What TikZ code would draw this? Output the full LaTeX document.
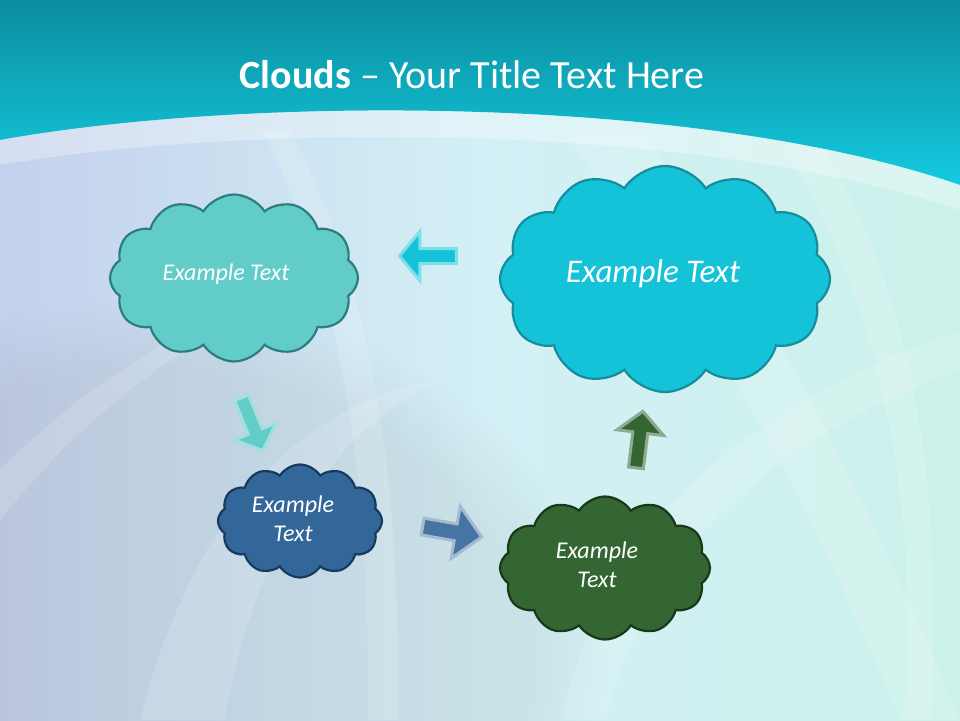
\documentclass[tikz,border=0pt]{standalone}
\usepackage{fontspec}
\setmainfont{Carlito}
\usetikzlibrary{shapes.symbols,shapes.arrows,positioning,fadings}
\definecolor{bandtop}{HTML}{0A8E9F}
\definecolor{bandlow}{HTML}{14CADF}
\definecolor{paleleft}{HTML}{C4D0EC}
\definecolor{palemid}{HTML}{D3F0F6}
\definecolor{paleright}{HTML}{CBF1EA}
\definecolor{tealfill}{HTML}{62CCC9}
\definecolor{tealline}{HTML}{2B7E7D}
\definecolor{cyanfill}{HTML}{14C3D8}
\definecolor{cyanline}{HTML}{168C9C}
\definecolor{bluefill}{HTML}{336699}
\definecolor{blueline}{HTML}{173A5E}
\definecolor{greenfill}{HTML}{336633}
\definecolor{greenline}{HTML}{183818}
\tikzset{
  cloudbox/.style={cloud, cloud puffs=12, cloud puff arc=115, draw, line width=2.2pt, inner sep=0pt},
  cloudtext/.style={text=white, align=center, font=\itshape\fontsize{24}{29}\selectfont},
  blockarrow/.style={single arrow, inner sep=0pt, line width=3pt, single arrow head indent=0pt},
  streak/.style={fill=white, fill opacity=0.15, draw=none}
}
\begin{document}
\begin{tikzpicture}[x=1pt,y=-1pt]
\useasboundingbox (0,0) rectangle (960,720);
% background
\shade[left color=paleleft, right color=paleright, middle color=palemid] (0,0) rectangle (960,720);
\fill[gray, fill opacity=0.12, path fading=circle with fuzzy edge 20 percent] (150,660) ellipse [x radius=460pt, y radius=360pt];
\fill[streak] (290,130) .. controls (380,300) and (400,500) .. (398,720) -- (368,720) .. controls (370,500) and (348,300) .. (262,130) -- cycle;
\fill[streak] (140,720) .. controls (190,520) and (300,400) .. (440,380) .. controls (330,430) and (250,560) .. (225,720) -- cycle;
\fill[streak] (0,470) .. controls (80,390) and (180,320) .. (300,290) .. controls (180,340) and (80,420) .. (0,520) -- cycle;
\fill[streak] (560,130) .. controls (700,300) and (800,480) .. (900,720) -- (960,720) .. controls (860,480) and (760,290) .. (640,130) -- cycle;
\fill[streak] (780,140) .. controls (880,300) and (920,500) .. (905,720) -- (930,720) .. controls (945,500) and (915,300) .. (825,150) -- cycle;
\fill[streak] (560,720) .. controls (600,560) and (700,420) .. (960,330) -- (960,370) .. controls (740,450) and (640,580) .. (605,720) -- cycle;
% title band
\shade[top color=bandtop, bottom color=bandlow] (0,0) -- (960,0) -- (960,185)
  .. controls (700,95) and (250,95) .. (0,140) -- cycle;
\fill[white, opacity=0.3] (0,140) .. controls (250,95) and (700,95) .. (960,185) -- (960,210)
  .. controls (700,122) and (250,122) .. (0,165) -- cycle;
\node[text=white, font=\fontsize{40}{46}\selectfont] (title) at (472,75) {\textbf{Clouds} -- Your Title Text Here};
% clouds
\node[cloudbox, fill=tealfill, draw=tealline, minimum width=248pt, minimum height=167pt] (c1) at (234,278) {};
\node[cloudbox, fill=cyanfill, draw=cyanline, minimum width=330pt, minimum height=226pt] (c2) at (665,279) {};
\node[cloudbox, fill=bluefill, draw=blueline, minimum width=164pt, minimum height=113pt] (c3) at (300,521) {};
\node[cloudbox, fill=greenfill, draw=greenline, minimum width=210pt, minimum height=143pt] (c4) at (605,568) {};
\node[cloudtext] (t1) at ([xshift=-8pt,yshift=4pt]c1.center) {Example Text};
\node[cloudtext, font=\itshape\fontsize{33}{38}\selectfont] (t2) at ([xshift=-12pt,yshift=5pt]c2.center) {Example Text};
\node[cloudtext] (t3) at ([xshift=-7pt,yshift=2pt]c3.center) {Example\\Text};
\node[cloudtext] (t4) at ([xshift=-8pt,yshift=3pt]c4.center) {Example\\Text};
% arrows
\node[blockarrow, fill=cyanfill, draw=cyanfill!55!white, minimum height=57pt, inner ysep=6pt, single arrow head extend=17pt, single arrow tip angle=100, rotate=180] (a1) at (431,256) {};
\node[blockarrow, fill=tealfill, draw=tealfill!60!white, minimum height=57pt, inner ysep=6pt, single arrow head extend=15pt, single arrow tip angle=95, rotate=-68] (a2) at (251,421) {};
\node[blockarrow, fill=bluefill!90!white, draw=bluefill!45!white, minimum height=60pt, inner ysep=7pt, single arrow head extend=18pt, single arrow tip angle=90, rotate=-10] (a3) at (448,531) {};
\node[blockarrow, fill=greenfill, draw=greenfill!55!white, minimum height=57pt, inner ysep=6pt, single arrow head extend=16pt, single arrow tip angle=95, rotate=83] (a4) at (639,443) {};
\end{tikzpicture}
\end{document}
